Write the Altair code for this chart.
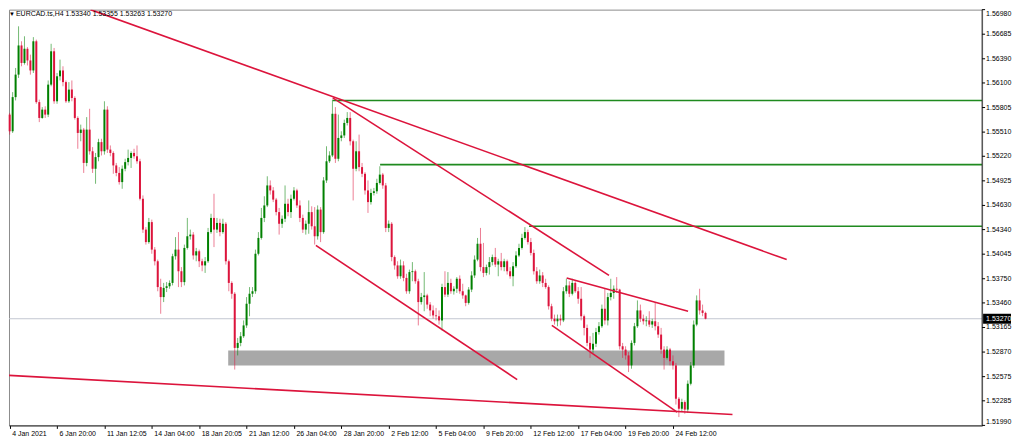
import json
import altair as alt
import pandas as pd

# ---------------- data ----------------
first_open = 1.5572

closes = [
    1.5552, 1.5593, 1.5620, 1.5655, 1.5634, 1.5651, 1.5637, 1.5625, 1.5660, 1.5587,
    1.5568, 1.5578, 1.5572, 1.5608, 1.5648, 1.5588, 1.5618, 1.5625, 1.5611, 1.5588,
    1.5602, 1.5592, 1.5568, 1.5550, 1.5554, 1.5514, 1.5554, 1.5528, 1.5507, 1.5521,
    1.5539, 1.5528, 1.5578, 1.5530, 1.5526, 1.5511, 1.5502, 1.5491, 1.5507, 1.5515,
    1.5520, 1.5526, 1.5522, 1.5516, 1.5471, 1.5434, 1.5419, 1.5443,
    1.5410, 1.5396, 1.5365, 1.5353, 1.5364, 1.5366, 1.5370, 1.5402, 1.5410, 1.5384,
    1.5371, 1.5412, 1.5426, 1.5428, 1.5403, 1.5408, 1.5396, 1.5391, 1.5396, 1.5431,
    1.5448, 1.5434, 1.5442, 1.5431, 1.5441, 1.5396, 1.5370, 1.5357, 1.5292, 1.5298,
    1.5306, 1.5319, 1.5345, 1.5357, 1.5360, 1.5405, 1.5424, 1.5448, 1.5463, 1.5487,
    1.5481, 1.5470, 1.5455, 1.5441, 1.5447, 1.5465, 1.5455, 1.5471,
    1.5481, 1.5463, 1.5448, 1.5434, 1.5441, 1.5455, 1.5438, 1.5426, 1.5458, 1.5431,
    1.5493, 1.5516, 1.5523, 1.5573, 1.5519, 1.5544, 1.5547, 1.5562, 1.5568, 1.5540,
    1.5507, 1.5528, 1.5509, 1.5501, 1.5481, 1.5467, 1.5478, 1.5480, 1.5490, 1.5500,
    1.5487, 1.5436, 1.5441, 1.5401, 1.5391, 1.5378, 1.5391, 1.5376, 1.5360, 1.5383,
    1.5384, 1.5372, 1.5347, 1.5353, 1.5355, 1.5344, 1.5337, 1.5331,
    1.5330, 1.5325, 1.5365, 1.5356, 1.5370, 1.5360, 1.5363, 1.5375, 1.5360, 1.5355,
    1.5346, 1.5362, 1.5379, 1.5398, 1.5417, 1.5389, 1.5382, 1.5389, 1.5395, 1.5401,
    1.5392, 1.5396, 1.5389, 1.5396, 1.5384, 1.5378, 1.5390, 1.5403, 1.5412, 1.5424,
    1.5431, 1.5419, 1.5406, 1.5384, 1.5372, 1.5379, 1.5370, 1.5365, 1.5342, 1.5327,
    1.5324, 1.5327, 1.5325, 1.5360, 1.5367, 1.5357, 1.5370, 1.5360, 1.5351,
    1.5330, 1.5316, 1.5298, 1.5290, 1.5297, 1.5311, 1.5318, 1.5339, 1.5325, 1.5353,
    1.5358, 1.5363, 1.5362, 1.5294, 1.5290, 1.5283, 1.5271, 1.5298, 1.5318, 1.5337,
    1.5327, 1.5324, 1.5325, 1.5320, 1.5324, 1.5318, 1.5308, 1.5290, 1.5280, 1.5290,
    1.5276, 1.5271, 1.5231, 1.5219, 1.5227, 1.5218, 1.5249, 1.5271, 1.5320, 1.5349,
    1.5337, 1.5334, 1.5327,
]

highs = [
    1.5574, 1.5599, 1.5628, 1.5678, 1.5660, 1.5666, 1.5653, 1.5644, 1.5665, 1.5662,
    1.5590, 1.5581, 1.5582, 1.5613, 1.5657, 1.5652, 1.5622, 1.5638, 1.5630, 1.5613,
    1.5611, 1.5613, 1.5594, 1.5570, 1.5560, 1.5556, 1.5569, 1.5579, 1.5533, 1.5526,
    1.5543, 1.5543, 1.5588, 1.5582, 1.5535, 1.5528, 1.5514, 1.5509, 1.5511, 1.5519,
    1.5530, 1.5528, 1.5531, 1.5535, 1.5519, 1.5475, 1.5437, 1.5448,
    1.5446, 1.5413, 1.5398, 1.5375, 1.5370, 1.5371, 1.5373, 1.5405, 1.5425, 1.5431,
    1.5389, 1.5416, 1.5448, 1.5434, 1.5431, 1.5412, 1.5410, 1.5399, 1.5401, 1.5436,
    1.5453, 1.5477, 1.5448, 1.5447, 1.5447, 1.5443, 1.5398, 1.5372, 1.5359, 1.5304,
    1.5311, 1.5325, 1.5353, 1.5365, 1.5365, 1.5410, 1.5431, 1.5460, 1.5474, 1.5498,
    1.5493, 1.5485, 1.5472, 1.5460, 1.5451, 1.5487, 1.5471, 1.5476,
    1.5485, 1.5483, 1.5469, 1.5452, 1.5445, 1.5469, 1.5462, 1.5461, 1.5463, 1.5461,
    1.5497, 1.5534, 1.5528, 1.5590, 1.5581, 1.5572, 1.5552, 1.5566, 1.5575, 1.5575,
    1.5542, 1.5540, 1.5548, 1.5514, 1.5503, 1.5493, 1.5483, 1.5484, 1.5495, 1.5510,
    1.5502, 1.5490, 1.5445, 1.5443, 1.5403, 1.5396, 1.5398, 1.5396, 1.5381, 1.5386,
    1.5395, 1.5386, 1.5375, 1.5358, 1.5383, 1.5357, 1.5347, 1.5343,
    1.5340, 1.5337, 1.5369, 1.5384, 1.5383, 1.5375, 1.5366, 1.5377, 1.5379, 1.5369,
    1.5356, 1.5365, 1.5384, 1.5403, 1.5424, 1.5436, 1.5418, 1.5392, 1.5401, 1.5404,
    1.5412, 1.5399, 1.5406, 1.5399, 1.5398, 1.5389, 1.5395, 1.5408, 1.5417, 1.5429,
    1.5437, 1.5434, 1.5424, 1.5410, 1.5389, 1.5386, 1.5383, 1.5375, 1.5367, 1.5345,
    1.5332, 1.5332, 1.5332, 1.5365, 1.5375, 1.5372, 1.5375, 1.5372, 1.5365,
    1.5365, 1.5332, 1.5320, 1.5306, 1.5310, 1.5316, 1.5323, 1.5344, 1.5363, 1.5358,
    1.5375, 1.5367, 1.5377, 1.5363, 1.5298, 1.5294, 1.5287, 1.5301, 1.5322, 1.5349,
    1.5344, 1.5332, 1.5330, 1.5336, 1.5327, 1.5347, 1.5323, 1.5316, 1.5294, 1.5294,
    1.5292, 1.5283, 1.5274, 1.5233, 1.5231, 1.5229, 1.5253, 1.5275, 1.5325, 1.5355,
    1.5363, 1.5344, 1.53355,
]

lows = [
    1.5548, 1.5550, 1.5589, 1.5616, 1.5630, 1.5632, 1.5631, 1.5620, 1.5622, 1.5585,
    1.5563, 1.5567, 1.5568, 1.5569, 1.5606, 1.5585, 1.5585, 1.5613, 1.5606, 1.5586,
    1.5586, 1.5588, 1.5566, 1.5531, 1.5540, 1.5502, 1.5510, 1.5524, 1.5502, 1.5489,
    1.5516, 1.5523, 1.5524, 1.5526, 1.5522, 1.5501, 1.5498, 1.5488, 1.5483, 1.5504,
    1.5511, 1.5508, 1.5519, 1.5513, 1.5469, 1.5430, 1.5416, 1.5417,
    1.5405, 1.5391, 1.5360, 1.5333, 1.5347, 1.5359, 1.5363, 1.5367, 1.5398, 1.5365,
    1.5365, 1.5367, 1.5410, 1.5422, 1.5398, 1.5396, 1.5389, 1.5384, 1.5382, 1.5394,
    1.5429, 1.5413, 1.5430, 1.5426, 1.5429, 1.5392, 1.5360, 1.5351, 1.5266, 1.5283,
    1.5294, 1.5304, 1.5316, 1.5330, 1.5353, 1.5357, 1.5403, 1.5422, 1.5443, 1.5461,
    1.5476, 1.5467, 1.5451, 1.5428, 1.5436, 1.5443, 1.5450, 1.5448,
    1.5469, 1.5460, 1.5443, 1.5430, 1.5428, 1.5429, 1.5434, 1.5416, 1.5422, 1.5419,
    1.5429, 1.5490, 1.5514, 1.5521, 1.5514, 1.5516, 1.5540, 1.5544, 1.5559, 1.5535,
    1.5469, 1.5504, 1.5504, 1.5497, 1.5476, 1.5454, 1.5464, 1.5475, 1.5477, 1.5488,
    1.5483, 1.5431, 1.5431, 1.5396, 1.5386, 1.5375, 1.5375, 1.5372, 1.5357, 1.5357,
    1.5372, 1.5369, 1.5319, 1.5344, 1.5336, 1.5339, 1.5330, 1.5327,
    1.5325, 1.5320, 1.5313, 1.5353, 1.5353, 1.5357, 1.5356, 1.5358, 1.5357, 1.5351,
    1.5342, 1.5344, 1.5359, 1.5376, 1.5396, 1.5384, 1.5377, 1.5379, 1.5380, 1.5391,
    1.5389, 1.5378, 1.5385, 1.5384, 1.5380, 1.5375, 1.5366, 1.5388, 1.5401, 1.5410,
    1.5422, 1.5416, 1.5403, 1.5380, 1.5369, 1.5369, 1.5365, 1.5363, 1.5338, 1.5324,
    1.5320, 1.5318, 1.5319, 1.5323, 1.5357, 1.5353, 1.5355, 1.5358, 1.5345,
    1.5325, 1.5307, 1.5294, 1.5280, 1.5286, 1.5293, 1.5308, 1.5316, 1.5320, 1.5319,
    1.5349, 1.5351, 1.5358, 1.5290, 1.5280, 1.5278, 1.5263, 1.5267, 1.5295, 1.5316,
    1.5323, 1.5320, 1.5318, 1.5317, 1.5316, 1.5313, 1.5304, 1.5285, 1.5266, 1.5278,
    1.5271, 1.5266, 1.5224, 1.5209, 1.5215, 1.5213, 1.5214, 1.5247, 1.5268, 1.5318,
    1.5332, 1.5330, 1.53263,
]

x_tick_bars = [0, 16, 32, 48, 64, 80, 96, 112, 128, 144, 160, 176, 192, 208, 224]
x_tick_labels = ["4 Jan 2021", "6 Jan 20:00", "11 Jan 12:05", "14 Jan 04:00",
                 "18 Jan 20:05", "21 Jan 12:00", "26 Jan 04:00", "28 Jan 20:00",
                 "2 Feb 12:00", "5 Feb 04:00", "9 Feb 20:00", "12 Feb 12:00",
                 "17 Feb 04:00", "19 Feb 20:00", "24 Feb 12:00"]
y_tick_values = [1.56980, 1.56685, 1.56390, 1.56100, 1.55805, 1.55510, 1.55220,
                 1.54925, 1.54630, 1.54340, 1.54045, 1.53750, 1.53460, 1.53165,
                 1.52870, 1.52575, 1.52285, 1.51990]

# red trend lines: start bar, start price, end bar, end price
trend_x1 = [27.3, 109.1, 103.4, -0.23, 188.1, 183.1]
trend_p1 = [1.5698, 1.5592, 1.5415, 1.5259, 1.5376, 1.5319]
trend_x2 = [262.4, 202.4, 171.4, 244.1, 229.1, 225.4]
trend_p2 = [1.5398, 1.5379, 1.5254, 1.5212, 1.5336, 1.5215]

# green horizontal resistance levels (start bar, price)
level_start = [109.1, 125.1, 175.4]
level_price = [1.5589, 1.5512, 1.5438]

# grey support zone
zone_bars = [73.8, 241.4]
zone_prices = [1.5271, 1.5289]

last_price = 1.53270
header = "EURCAD.ts,H4  1.53340 1.53355 1.53263 1.53270"

# ---------------- frames ----------------
opens = [first_open] + closes[:-1]
rows = []
for i, (o, h, l, c) in enumerate(zip(opens, highs, lows, closes)):
    rows.append({"i": i, "open": o, "close": c,
                 "high": max(h, o, c), "low": min(l, o, c),
                 "dir": "up" if c >= o else "down"})
candles = pd.DataFrame(rows)

W, H = 976, 417
X_DOMAIN = [-0.23, 328.4]
XS = alt.Scale(domain=X_DOMAIN, nice=False, zero=False, padding=0)
YS = alt.Scale(domain=[1.51990, 1.56980], nice=False, zero=False, padding=0)

trends = pd.DataFrame({"x1": trend_x1, "p1": trend_p1, "x2": trend_x2, "p2": trend_p2})
levels = pd.DataFrame({"x1": level_start, "x2": [X_DOMAIN[1]] * len(level_start),
                       "p": level_price})
zone = pd.DataFrame({"x1": [zone_bars[0]], "x2": [zone_bars[1]],
                     "p1": [zone_prices[0]], "p2": [zone_prices[1]]})
last = pd.DataFrame({"p": [last_price]})
head = pd.DataFrame({"t": [header]})
yt = pd.DataFrame({"v": y_tick_values, "k": list(range(len(y_tick_values)))})
n_yt = len(y_tick_values)

FONT = "Liberation Sans"

x_axis = alt.Axis(values=x_tick_bars, orient="bottom", title=None, grid=False,
                  labelExpr=json.dumps(x_tick_labels) + "[round(datum.value/16)]",
                  labelAlign="left", labelBaseline="top", labelPadding=1,
                  labelOffset=2, labelFlush=False, labelOverlap=False,
                  labelFont=FONT, labelFontSize=7, labelColor="#000000",
                  tickSize=3, tickColor="#000000", domainColor="#303030")


def X(field, axis=False):
    if axis:
        return alt.X(field, type="quantitative", scale=XS, axis=x_axis, title=None)
    return alt.X(field, type="quantitative", scale=XS, title=None)


def Y(field):
    return alt.Y(field, type="quantitative", scale=YS, axis=None, title=None)


col = alt.Color("dir:N", scale=alt.Scale(domain=["up", "down"],
                                         range=["#008000", "#dc143c"]), legend=None)

zone_layer = alt.Chart(zone).mark_rect(color="#a8a8a8", clip=True).encode(
    x=X("x1", axis=True), x2="x2:Q", y=Y("p1"), y2="p2:Q")

price_line = alt.Chart(last).mark_rule(color="#c3c7d1", strokeWidth=1).encode(
    y=Y("p"))

wicks = alt.Chart(candles).mark_rule(strokeWidth=1, opacity=0.55).encode(
    x=X("i"), y=Y("low"), y2="high:Q", color=col)

bodies = alt.Chart(candles).mark_bar(size=2).encode(
    x=X("i"), y=Y("open"), y2="close:Q", color=col)

level_layer = alt.Chart(levels).mark_rule(color="#1f8a1f", strokeWidth=1.6, clip=True).encode(
    x=X("x1"), x2="x2:Q", y=Y("p"))

trend_layer = alt.Chart(trends).mark_rule(color="#dc143c", strokeWidth=1.6, clip=True).encode(
    x=X("x1"), x2="x2:Q", y=Y("p1"), y2="p2:Q")

tri = alt.Chart(head).mark_text(text="▼", fontSize=6, color="#000000",
                                align="left", baseline="middle", font=FONT).encode(
    x=alt.value(0), y=alt.value(4))
title_txt = alt.Chart(head).mark_text(fontSize=7, color="#000000", align="left",
                                      baseline="middle", font=FONT).encode(
    x=alt.value(7), y=alt.value(4), text="t:N")

# right price scale: border, ticks and labels
right_border = alt.Chart(head).mark_rule(color="#303030", strokeWidth=1).encode(
    x=alt.value(W), y=alt.value(0), y2=alt.value(H))
y_ticks = alt.Chart(yt).mark_rule(color="#000000", strokeWidth=1).encode(
    x=alt.value(W), x2=alt.value(W + 3), y=Y("v"))
lab_kw = dict(fontSize=7, color="#000000", align="left", font=FONT)
y_lab_mid = alt.Chart(yt).transform_filter(
    (alt.datum.k > 0) & (alt.datum.k < n_yt - 1)
).mark_text(baseline="middle", **lab_kw).encode(
    x=alt.value(W + 4), y=Y("v"), text=alt.Text("v:Q", format=".5f"))
y_lab_top = alt.Chart(yt).transform_filter(alt.datum.k == 0).mark_text(
    baseline="top", **lab_kw).encode(
    x=alt.value(W + 4), y=Y("v"), text=alt.Text("v:Q", format=".5f"))
y_lab_bot = alt.Chart(yt).transform_filter(alt.datum.k == n_yt - 1).mark_text(
    baseline="bottom", **lab_kw).encode(
    x=alt.value(W + 4), y=Y("v"), text=alt.Text("v:Q", format=".5f"))

tag_box = alt.Chart(last).mark_rule(color="#000000", strokeWidth=10, strokeCap="butt").encode(
    x=alt.value(W + 1), x2=alt.value(W + 29), y=Y("p"))
tag_txt = alt.Chart(last).mark_text(color="#ffffff", fontSize=7, align="left",
                                    baseline="middle", font=FONT).encode(
    x=alt.value(W + 4), y=Y("p"), text=alt.Text("p:Q", format=".5f"))

chart = alt.layer(
    zone_layer, price_line, wicks, bodies, level_layer, trend_layer,
    tri, title_txt, right_border, y_ticks, y_lab_mid, y_lab_top, y_lab_bot,
    tag_box, tag_txt
).properties(width=W, height=H, padding=0, background="#ffffff",
             autosize=alt.AutoSizeParams(type="pad")).configure(
    font=FONT, padding=0,
    view=alt.ViewConfig(stroke="#8c8c8c", strokeWidth=1))

chart.save("out.html", embed_options={"renderer": "svg", "actions": False})
